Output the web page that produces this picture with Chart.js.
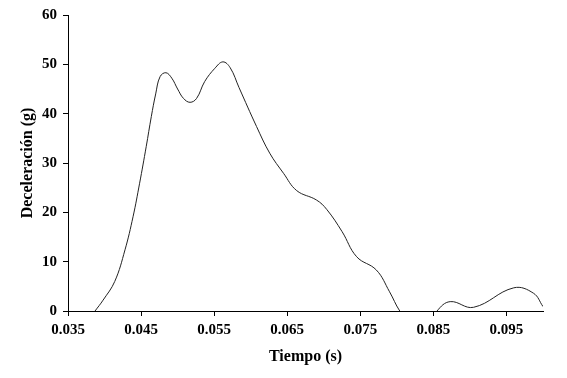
<!DOCTYPE html>
<html>
<head>
<meta charset="utf-8">
<script src="https://cdn.jsdelivr.net/npm/chart.js@4"></script>
<style>
    html, body { margin: 0; padding: 0; background: #fff; }
    #wrap { width: 567px; height: 378px; }
</style>
</head>
<body>
<div id="wrap"><canvas id="chart"></canvas></div>
<script>
// values
const tiempo = [0.0387, 0.0398, 0.0414, 0.0428, 0.0439, 0.0448, 0.0457, 0.0464, 0.0470, 0.0476,
    0.0484, 0.0492, 0.0500, 0.0508, 0.0517, 0.0526, 0.0537, 0.0551, 0.0562, 0.0572,
    0.0584, 0.0608, 0.0626, 0.0645, 0.0663, 0.0690, 0.0704, 0.0725, 0.0745, 0.0772,
    0.0790, 0.0804, 0.0825, 0.0845, 0.0855, 0.0873, 0.0905, 0.0960, 0.0987, 0.1000]
const deceleracion = [0, 2.2, 6.0, 12.4, 19.1, 25.9, 33.3, 39.4, 44.0, 47.5,
    48.3, 47.2, 45.0, 43.1, 42.3, 43.1, 46.5, 49.2, 50.5, 49.3,
    45.3, 37.4, 32.0, 27.9, 24.4, 22.5, 20.6, 16.1, 11.0, 8.3,
    3.9, 0, -4, -3, 0, 1.9, 0.75, 4.7, 3.6, 0.9]
const xTicks = [0.035, 0.045, 0.055, 0.065, 0.075, 0.085, 0.095]
const yTicks = [0, 10, 20, 30, 40, 50, 60]

const tickFont = { family: "'Liberation Serif', 'Times New Roman', serif", size: 15, weight: 'bold' }
const titleFont = { family: "'Liberation Serif', 'Times New Roman', serif", size: 16, weight: 'bold' }

function createChart(canvas) {
    const points = tiempo.map((t, i) => ({ x: t, y: deceleracion[i] }))

    new Chart(canvas, {
        type: 'scatter',
        data: {
            datasets: [
                {
                    data: points,
                    showLine: true,
                    borderColor: '#222',
                    borderWidth: 1,
                    pointRadius: 0,
                    tension: 0.4,
                },
            ],
        },
        options: {
            responsive: true,
            maintainAspectRatio: false,
            animation: false,
            layout: { padding: { top: 15, right: 24, left: 0, bottom: 0 } },
            plugins: { legend: { display: false }, tooltip: { enabled: false } },
            scales: {
                x: {
                    type: 'linear',
                    min: 0.035,
                    max: 0.1,
                    afterBuildTicks: (scale) => { scale.ticks = xTicks.map(v => ({ value: v })) },
                    afterFit: (scale) => { scale.height = 67 },
                    grid: { drawOnChartArea: false, drawTicks: true, tickLength: 5, color: '#000' },
                    border: { color: '#000', width: 1 },
                    ticks: {
                        color: '#000',
                        font: tickFont,
                        padding: 5,
                        maxRotation: 0,
                        callback: (v) => v.toFixed(3),
                    },
                    title: {
                        display: true,
                        text: 'Tiempo (s)',
                        color: '#000',
                        font: titleFont,
                        padding: { top: 0, bottom: 12 },
                    },
                },
                y: {
                    type: 'linear',
                    min: 0,
                    max: 60,
                    afterBuildTicks: (scale) => { scale.ticks = yTicks.map(v => ({ value: v })) },
                    afterFit: (scale) => { scale.width = 68 },
                    grid: { drawOnChartArea: false, drawTicks: true, tickLength: 5, color: '#000' },
                    border: { color: '#000', width: 1 },
                    ticks: {
                        color: '#000',
                        font: tickFont,
                        padding: 6,
                    },
                    title: {
                        display: true,
                        text: 'Deceleración (g)',
                        color: '#000',
                        font: titleFont,
                        padding: { top: 18, bottom: 0 },
                    },
                },
            },
        },
    })
}

createChart(document.getElementById('chart'))
</script>
</body>
</html>
